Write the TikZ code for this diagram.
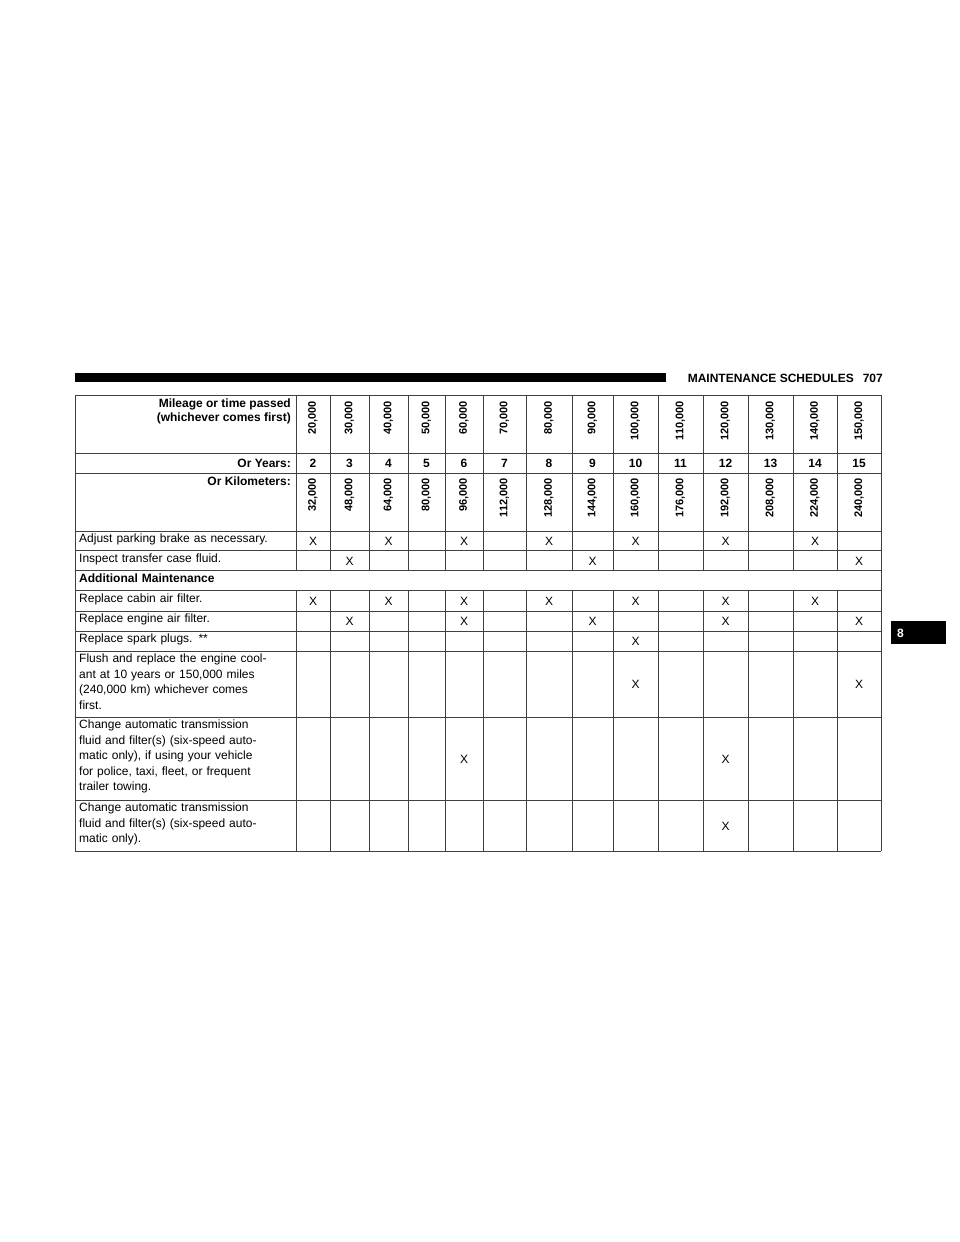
\documentclass[tikz,border=0pt]{standalone}
\usepackage{fontspec}
\setmainfont{Liberation Sans}
\begin{document}
\begin{tikzpicture}[x=1pt,y=-1pt,
  grid/.style={draw=black!75,line width=0.8pt},
  cell/.style={font=\fontsize{12}{15}\selectfont,inner sep=0pt},
  lbl/.style={font=\fontsize{12}{15.5}\selectfont,inner sep=0pt,anchor=north west,align=left,text width=215pt},
  hd/.style={font=\fontsize{12}{15}\selectfont\bfseries,inner sep=0pt},
  rot/.style={font=\fontsize{11}{13}\selectfont\bfseries,inner sep=0pt,rotate=90,anchor=east}]
\useasboundingbox (0,0) rectangle (960,1242);
\fill (75,373) rectangle (666,382);
\node[hd,anchor=east] (title) at (883,378) {MAINTENANCE SCHEDULES\hspace{9pt}707};
\fill (891,621) rectangle (946,644);
\node[hd,text=white,anchor=west] (tab) at (897,633) {8};
\def\cols{{296,330,369,408,445,483,526,572,613,658,703,748,793,837,881}}
% outer rows
\foreach \y in {395,453,473,531,550,570,590,611,631,651,717,800,851}
  \draw[grid] (75,\y) -- (881,\y);
\draw[grid] (75,395) -- (75,851);
\foreach \x in {296,330,369,408,445,483,526,572,613,658,703,748,793,837,881}{
  \draw[grid] (\x,395) -- (\x,570);
  \draw[grid] (\x,590) -- (\x,851);}
\draw[grid] (881,570) -- (881,590);
% header
\node[hd,anchor=north east,align=right] (h1) at (291,399) {Mileage or time passed\\[-1pt](whichever comes first)};
\node[hd,anchor=east] (h2) at (291,463) {Or Years:};
\node[hd,anchor=north east] (h3) at (291,477) {Or Kilometers:};
\foreach \m [count=\i from 0] in {20,30,40,50,60,70,80,90,100,110,120,130,140,150}{
  \pgfmathsetmacro\a{\cols[\i]}\pgfmathsetmacro\b{\cols[\i+1]}
  \node[rot] (m\i) at ({(\a+\b)/2},401) {\m,000};
  \pgfmathtruncatemacro\yr{\i+2}
  \node[hd] (y\i) at ({(\a+\b)/2},463) {\yr};
  \pgfmathtruncatemacro\km{(\i+2)*16}
  \node[rot] (k\i) at ({(\a+\b)/2},478) {\km,000};
}
% row labels
\node[lbl] (r1) at (79,534) {Adjust parking brake as necessary.};
\node[lbl] (r2) at (79,554) {Inspect transfer case fluid.};
\node[lbl,font=\fontsize{12}{15}\selectfont\bfseries] (r3) at (79,574) {Additional Maintenance};
\node[lbl] (r4) at (79,594) {Replace cabin air filter.};
\node[lbl] (r5) at (79,614) {Replace engine air filter.};
\node[lbl] (r6) at (79,634) {Replace spark plugs. **};
\node[lbl] (r7) at (79,654) {Flush and replace the engine cool-\\ant at 10 years or 150,000 miles\\(240,000 km) whichever comes\\first.};
\node[lbl] (r8) at (79,720) {Change automatic transmission\\fluid and filter(s) (six-speed auto-\\matic only), if using your vehicle\\for police, taxi, fleet, or frequent\\trailer towing.};
\node[lbl] (r9) at (79,803) {Change automatic transmission\\fluid and filter(s) (six-speed auto-\\matic only).};
% X marks
\foreach \y/\list in {541/{0,2,4,6,8,10,12},561/{1,7,13},601/{0,2,4,6,8,10,12},621/{1,4,7,10,13},641/{8},684/{8,13},759/{4,10},826/{10}}{
  \foreach \i in \list{
    \pgfmathsetmacro\a{\cols[\i]}\pgfmathsetmacro\b{\cols[\i+1]}
    \node[cell] at ({(\a+\b)/2},\y) {X};}}
\end{tikzpicture}
\end{document}
